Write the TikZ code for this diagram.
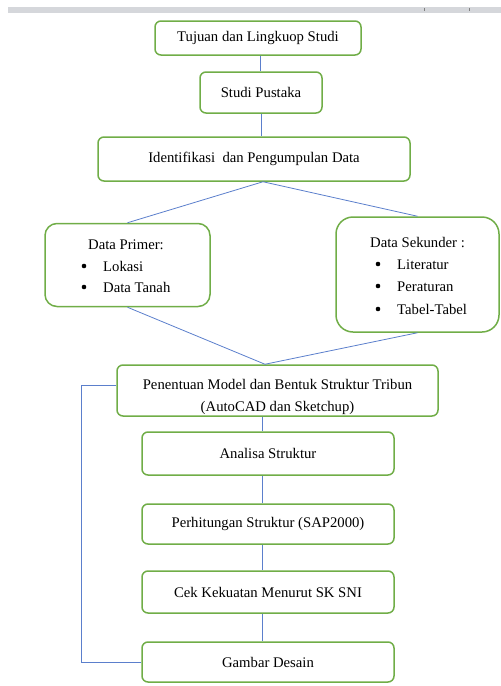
\documentclass[tikz,border=0pt]{standalone}
\usepackage{fontspec}
\setmainfont{Liberation Serif}
\usetikzlibrary{calc}
\definecolor{boxgreen}{HTML}{70AD47}
\definecolor{linkblue}{HTML}{5B7FCC}
\definecolor{rulergray}{HTML}{D5D7DB}
\begin{document}
\begin{tikzpicture}[x=1pt,y=-1pt,
  box/.style={draw=boxgreen, line width=1.5pt, rounded corners=6pt, inner sep=0pt, align=center, font=\fontsize{14.7}{18}\selectfont},
  link/.style={draw=linkblue, line width=0.8pt},
  txt/.style={inner sep=0pt, font=\fontsize{14.7}{18}\selectfont},
  bul/.style={circle, fill=black, inner sep=0pt, minimum size=4.6pt}]
\useasboundingbox (0,0) rectangle (501,686);
% ruler bar
\fill[rulergray] (8,7) rectangle (501,12.5);
\draw[gray, line width=0.6pt] (424,8) -- (424,10.5);
\draw[gray, line width=0.6pt] (469,8) -- (469,10.5);
% x guide coordinates
\coordinate (xa) at (260,0);
\coordinate (xc) at (261.5,0);
\coordinate (xd) at (263,0);
\coordinate (xb) at (262,0);
\coordinate (xj) at (265,0);
\coordinate (fbx) at (81,0);
% boxes
\node[box, minimum width=206pt, minimum height=34pt] (b1) at (258,38) {Tujuan dan Lingkuop Studi};
\node[box, minimum width=122pt, minimum height=41pt] (b2) at (261,92.5) {Studi Pustaka};
\node[box, minimum width=312pt, minimum height=44pt] (b3) at (254,159) {Identifikasi \ dan Pengumpulan Data};
\node[box, rounded corners=12pt, minimum width=165pt, minimum height=83pt] (dp) at (127.5,265) {};
\node[box, rounded corners=17pt, minimum width=163pt, minimum height=115pt] (ds) at (417.5,274.5) {};
\node[box, minimum width=321pt, minimum height=51pt] (b6) at (277.5,390.5) {};
\node[box, minimum width=252pt, minimum height=43pt] (b7) at (268,453.5) {Analisa Struktur};
\node[box, minimum width=252pt, minimum height=40pt] (b8) at (268,524) {Perhitungan Struktur (SAP2000)};
\node[box, minimum width=252pt, minimum height=42pt] (b9) at (268,592) {Cek Kekuatan Menurut SK SNI};
\node[box, minimum width=252pt, minimum height=40pt] (b10) at (268,662) {Gambar Desain};
% Data Primer text
\node[txt, anchor=base] (dpt) at (126,249) {Data Primer:};
\node[bul] (dpb1) at (84,266) {};
\node[txt, anchor=base west] (dpl1) at (103,271) {Lokasi};
\node[bul] (dpb2) at (84,287) {};
\node[txt, anchor=base west] (dpl2) at (103,292) {Data Tanah};
% Data Sekunder text
\node[txt, anchor=base] (dst) at (417.5,247) {Data Sekunder :};
\node[bul] (dsb1) at (378,264) {};
\node[txt, anchor=base west] (dsl1) at (397,269) {Literatur};
\node[bul] (dsb2) at (378,286) {};
\node[txt, anchor=base west] (dsl2) at (397,291) {Peraturan};
\node[bul] (dsb3) at (378,309) {};
\node[txt, anchor=base west] (dsl3) at (397,314) {Tabel-Tabel};
% Penentuan text
\node[txt, anchor=base] (t6a) at (277.5,389) {Penentuan Model dan Bentuk Struktur Tribun};
\node[txt, anchor=base] (t6b) at (277.5,411) {(AutoCAD dan Sketchup)};
% connectors
\draw[link] (b1.south -| xa) -- (b2.north -| xa);
\draw[link] (b2.south -| xc) -- (b3.north -| xc);
\draw[link] (b3.south -| xd) -- (dp.north);
\draw[link] (b3.south -| xd) -- (ds.north);
\coordinate (j) at (b6.north -| xj);
\draw[link] (dp.south) -- (j) -- (ds.south);
\draw[link] (b6.south -| xb) -- (b7.north -| xb);
\draw[link] (b7.south -| xb) -- (b8.north -| xb);
\draw[link] (b8.south -| xb) -- (b9.north -| xb);
\draw[link] (b9.south -| xb) -- (b10.north -| xb);
\coordinate (fb) at ($(b6.west)+(0,-5)$);
\draw[link] (fb) -- (fb -| fbx) |- (b10.west);
\end{tikzpicture}
\end{document}
